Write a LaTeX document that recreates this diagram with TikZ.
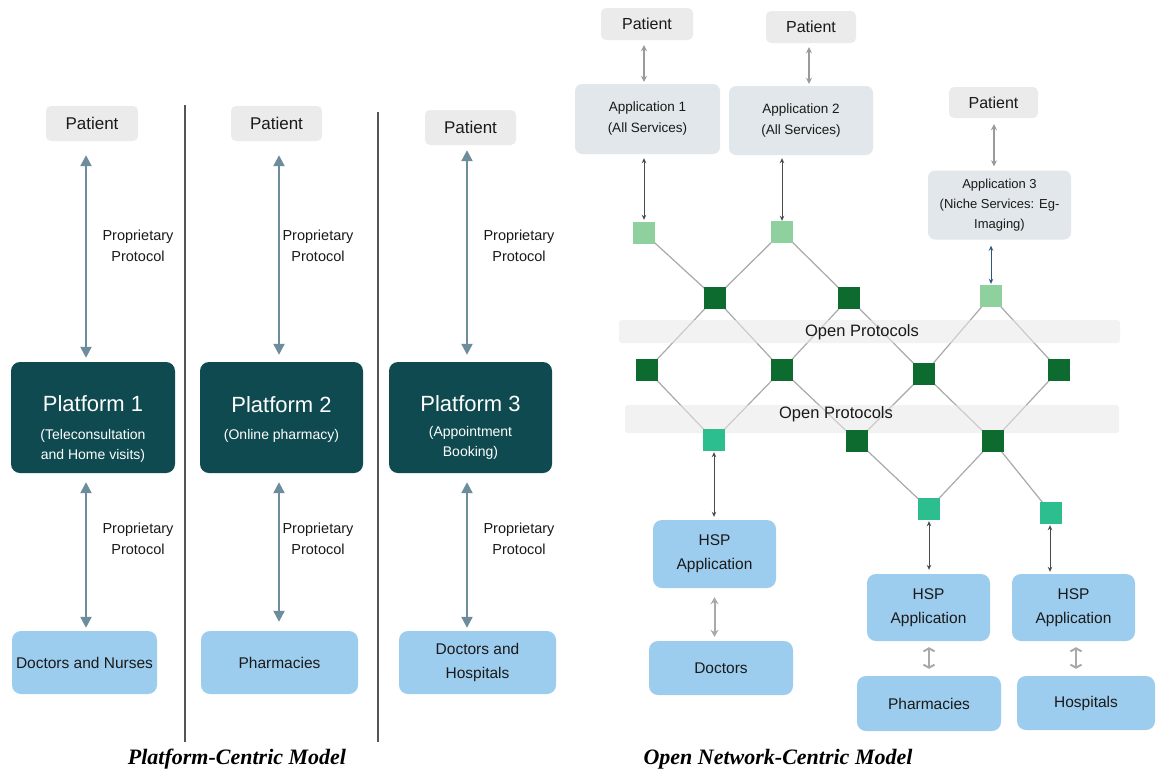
\documentclass[tikz,border=0pt]{standalone}
\usepackage{fontspec}
\setmainfont{Liberation Sans}
\newfontfamily\capfont{Liberation Serif}
\usetikzlibrary{arrows.meta,calc}
\definecolor{patgray}{HTML}{EBEBEB}
\definecolor{appgray}{HTML}{E1E7EA}
\definecolor{platc}{HTML}{0E4A50}
\definecolor{lblue}{HTML}{9DCDEE}
\definecolor{steel}{HTML}{6D8D9C}
\definecolor{lgreen}{HTML}{8ED19F}
\definecolor{dgreen}{HTML}{0E6B30}
\definecolor{teal}{HTML}{2DBE90}
\definecolor{bandc}{HTML}{E8E8E8}
\definecolor{edgec}{HTML}{A9A9A9}
\definecolor{txt}{HTML}{1A1A1A}
\definecolor{sep}{HTML}{555555}
\definecolor{darkarr}{HTML}{4A4A4A}
\definecolor{grayarr}{HTML}{9A9A9A}
\definecolor{bluearr}{HTML}{2D5A7A}
\pgfdeclarelayer{bg}\pgfdeclarelayer{mid}\pgfsetlayers{bg,mid,main}
\begin{document}
\begin{tikzpicture}[x=1pt,y=-1pt,
  every node/.style={text=txt, inner sep=0pt},
  patbox/.style={fill=patgray, rounded corners=5pt, font=\fontsize{17}{20}\selectfont},
  rpatbox/.style={fill=patgray, rounded corners=5pt, font=\fontsize{16}{20}\selectfont},
  platbox/.style={fill=platc, rounded corners=9pt},
  plattitle/.style={text=white, font=\fontsize{22}{26}\selectfont},
  platsub/.style={text=white, align=center, font=\fontsize{14}{20}\selectfont},
  bluebox/.style={fill=lblue, rounded corners=9pt, align=center, font=\fontsize{15.5}{24}\selectfont},
  appbox/.style={fill=appgray, rounded corners=7pt, align=center, font=\fontsize{13.5}{21}\selectfont},
  protlabel/.style={align=center, font=\fontsize{14.5}{21}\selectfont},
  thickarr/.style={draw=steel, line width=2.2pt, {Triangle[length=11pt,width=11pt]}-{Triangle[length=11pt,width=11pt]}},
  darkarrow/.style={draw=darkarr, line width=1pt, {Stealth[length=5pt,width=4.5pt]}-{Stealth[length=5pt,width=4.5pt]}},
  grayarrow/.style={draw=grayarr, line width=1.6pt, {Stealth[length=6pt,width=6pt]}-{Stealth[length=6pt,width=6pt]}},
  hsparrow/.style={draw=edgec, line width=2pt, {Stealth[length=7pt,width=8pt]}-{Stealth[length=7pt,width=8pt]}},
  barbarrow/.style={draw=edgec, line width=2pt, {Straight Barb[length=3pt,width=11pt]}-{Straight Barb[length=3pt,width=11pt]}},
  sqlg/.style={fill=lgreen, minimum size=22pt},
  sqdg/.style={fill=dgreen, minimum size=22pt},
  sqtl/.style={fill=teal, minimum size=22pt},
  band/.style={fill=bandc, rounded corners=3pt, fill opacity=0.55},
  netedge/.style={draw=edgec, line width=1.2pt},
  capt/.style={font=\capfont\bfseries\itshape\fontsize{22}{26}\selectfont, text=black}
]
\begin{pgfonlayer}{bg}
\fill[white] (0,0) rectangle (1156,774);
\end{pgfonlayer}
\useasboundingbox (0,0) rectangle (1156,774);

% ---------------- Left: Platform-centric ----------------
\draw[sep, line width=1.2pt] (185,105) coordinate (s1a) -- (185,742) coordinate (s1b);
\draw[sep, line width=1.2pt] (378,112) coordinate (s2a) -- (378,742) coordinate (s2b);

\node[patbox, minimum width=92pt, minimum height=35pt] (pat1) at (92,123.5) {Patient};
\node[patbox, minimum width=91pt, minimum height=35pt] (pat2) at (276.5,123.5) {Patient};
\node[patbox, minimum width=91pt, minimum height=35pt] (pat3) at (470.5,127.5) {Patient};

\node[platbox, minimum width=164pt, minimum height=111pt] (plat1) at (93,417.5) {};
\node[platbox, minimum width=163pt, minimum height=111pt] (plat2) at (281.5,417.5) {};
\node[platbox, minimum width=163pt, minimum height=111pt] (plat3) at (470.5,417.5) {};
\node[plattitle] (pt1) at (93,404) {Platform 1};
\node[platsub] (ps1) at (93,446) {(Teleconsultation\\and Home visits)};
\node[plattitle] (pt2) at (281.5,405) {Platform 2};
\node[platsub] (ps2) at (281.5,436) {(Online pharmacy)};
\node[plattitle] (pt3) at (470.5,404) {Platform 3};
\node[platsub] (ps3) at (470.5,443) {(Appointment\\Booking)};

\node[bluebox, minimum width=145pt, minimum height=63pt] (doc1) at (84.5,662.5) {Doctors and Nurses};
\node[bluebox, minimum width=157pt, minimum height=63pt] (pharm1) at (279.5,662.5) {Pharmacies};
\node[bluebox, minimum width=157pt, minimum height=63pt] (dh) at (477.5,662.5) {Doctors and\\Hospitals};

\coordinate (ax1) at (86,0);
\coordinate (ax2) at (279,0);
\coordinate (ax3) at (467,0);
\draw[thickarr, shorten <=14pt, shorten >=4pt] (pat1.south -| ax1) -- (plat1.north -| ax1);
\draw[thickarr, shorten <=9pt, shorten >=3pt] (plat1.south -| ax1) -- (doc1.north -| ax1);
\draw[thickarr, shorten <=14pt, shorten >=7pt] (pat2.south -| ax2) -- (plat2.north -| ax2);
\draw[thickarr, shorten <=9pt, shorten >=9pt] (plat2.south -| ax2) -- (pharm1.north -| ax2);
\draw[thickarr, shorten <=5pt, shorten >=7pt] (pat3.south -| ax3) -- (plat3.north -| ax3);
\draw[thickarr, shorten <=9pt, shorten >=3pt] (plat3.south -| ax3) -- (dh.north -| ax3);

\node[protlabel] (pl1) at (138,246) {Proprietary\\Protocol};
\node[protlabel] (pl2) at (318,246) {Proprietary\\Protocol};
\node[protlabel] (pl3) at (519,246) {Proprietary\\Protocol};
\node[protlabel] (pl4) at (138,539) {Proprietary\\Protocol};
\node[protlabel] (pl5) at (318,539) {Proprietary\\Protocol};
\node[protlabel] (pl6) at (519,539) {Proprietary\\Protocol};

\node[capt] (cap1) at (237,759) {Platform-Centric Model};

% ---------------- Right: Open network ----------------
\node[rpatbox, minimum width=92pt, minimum height=32pt] (patA) at (647,24) {Patient};
\node[rpatbox, minimum width=90pt, minimum height=32pt] (patB) at (811,27) {Patient};
\node[rpatbox, minimum width=89pt, minimum height=31pt] (patC) at (993.5,102.5) {Patient};

\node[appbox, minimum width=145pt, minimum height=70pt] (app1) at (647.5,119) {Application 1\\(All Services)};
\node[appbox, minimum width=144pt, minimum height=69pt] (app2) at (801,120.5) {Application 2\\(All Services)};
\node[appbox, minimum width=143pt, minimum height=69pt, font=\fontsize{13}{20}\selectfont] (app3) at (999.5,205) {Application 3\\(Niche Services: Eg-\\Imaging)};

% squares
\node[sqlg] (A1) at (644,233) {};
\node[sqlg] (A2) at (782,232) {};
\node[sqlg] (A3) at (991,296) {};
\node[sqdg] (D1) at (715,298) {};
\node[sqdg] (D2) at (849,298) {};
\node[sqdg] (E1) at (647,370) {};
\node[sqdg] (E2) at (782,370) {};
\node[sqdg] (E3) at (924,374) {};
\node[sqdg] (E4) at (1059,370) {};
\node[sqtl] (T1) at (714,440) {};
\node[sqdg] (F1) at (857,441) {};
\node[sqdg] (F2) at (993,441) {};
\node[sqtl] (T2) at (929,509) {};
\node[sqtl] (T3) at (1051,513) {};

\begin{pgfonlayer}{bg}
\foreach \a/\b in {A1/D1,D1/A2,A2/D2,D1/E1,D1/E2,D2/E2,D2/E3,A3/E3,A3/E4,E1/T1,E2/T1,E2/F1,E3/F1,E3/F2,E4/F2,F1/T2,F2/T2,F2/T3}
  \draw[netedge] (\a.center) -- (\b.center);
\end{pgfonlayer}
\begin{pgfonlayer}{mid}
\node[band, minimum width=501pt, minimum height=23pt] (band1) at (869.5,331.5) {};
\node[band, minimum width=494pt, minimum height=28pt] (band2) at (872,419) {};
\end{pgfonlayer}
\node[font=\fontsize{16.5}{20}\selectfont] (op1) at (862,332) {Open Protocols};
\node[font=\fontsize{16.5}{20}\selectfont] (op2) at (836,414) {Open Protocols};

\node[bluebox, minimum width=123pt, minimum height=68pt] (hsp1) at (714.5,554) {HSP\\Application};
\node[bluebox, minimum width=144pt, minimum height=54pt] (doc2) at (721,668) {Doctors};
\node[bluebox, minimum width=123pt, minimum height=67pt] (hsp2) at (928.5,607.5) {HSP\\Application};
\node[bluebox, minimum width=123pt, minimum height=67pt] (hsp3) at (1073.5,607.5) {HSP\\Application};
\node[bluebox, minimum width=144pt, minimum height=55pt] (pharm2) at (929,703.5) {Pharmacies};
\node[bluebox, minimum width=138pt, minimum height=54pt] (hosp) at (1086,703) {Hospitals};

\coordinate (bxA) at (644,0);
\coordinate (bxB) at (809,0);
\coordinate (bxC) at (994,0);
\coordinate (bx3) at (1050,0);
\coordinate (bx4) at (1076,0);
\draw[grayarrow, shorten <=5pt, shorten >=2pt] (patA.south -| bxA) -- (app1.north -| bxA);
\draw[grayarrow, shorten <=4pt, shorten >=2pt] (patB.south -| bxB) -- (app2.north -| bxB);
\draw[grayarrow, shorten <=6pt, shorten >=4pt] (patC.south -| bxC) -- (app3.north -| bxC);
\draw[darkarrow, shorten <=4pt, shorten >=2pt] (app1.south -| A1) -- (A1.north);
\draw[darkarrow, shorten <=3pt, shorten >=0pt] (app2.south -| A2) -- (A2.north);
\draw[darkarrow, draw=bluearr, shorten <=6pt, shorten >=1pt] (app3.south -| A3) -- (A3.north);
\draw[darkarrow, shorten <=1pt, shorten >=3pt] (T1.south) -- (hsp1.north -| T1);
\draw[darkarrow, shorten <=1pt, shorten >=4pt] (T2.south) -- (hsp2.north -| T2);
\draw[darkarrow, shorten <=1pt, shorten >=2pt] (T3.south -| bx3) -- (hsp3.north -| bx3);
\draw[hsparrow, shorten <=9pt, shorten >=4pt] (hsp1.south) -- (doc2.north -| hsp1);
\draw[barbarrow, shorten <=6pt, shorten >=7pt] (hsp2.south -| T2) -- (pharm2.north -| T2);
\draw[barbarrow, shorten <=6pt, shorten >=7pt] (hsp3.south -| bx4) -- (hosp.north -| bx4);

\node[capt] (cap2) at (778,759) {Open Network-Centric Model};
\end{tikzpicture}
\end{document}
